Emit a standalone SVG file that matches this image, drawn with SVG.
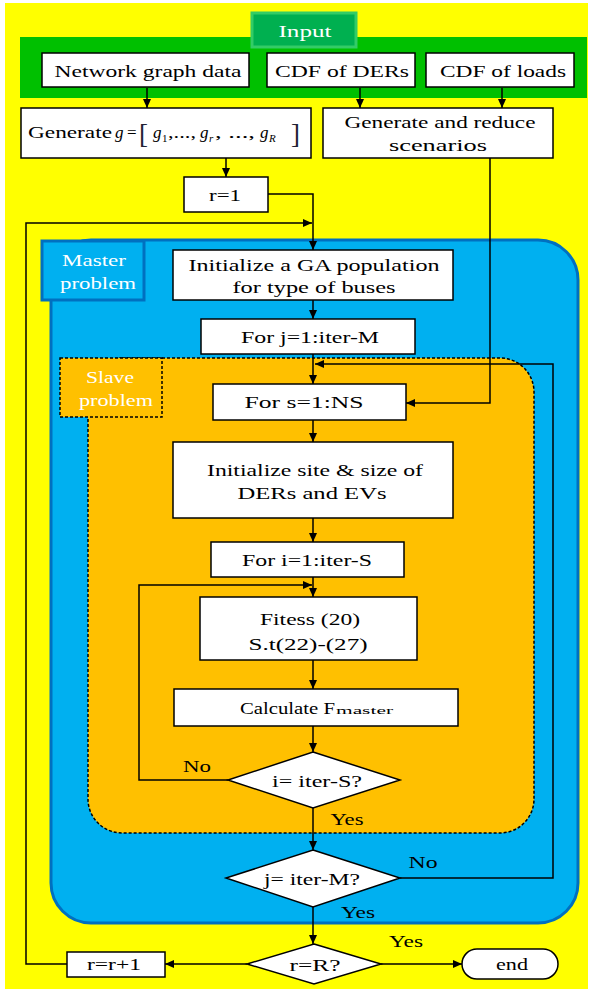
<svg xmlns="http://www.w3.org/2000/svg" width="592" height="992" viewBox="0 0 592 992">
<defs>
<marker id="ah" markerUnits="userSpaceOnUse" markerWidth="9" markerHeight="8" refX="9" refY="4" orient="auto">
<path d="M0,0 L9,4 L0,8 z" fill="#000"/>
</marker>
<style>
text{font-family:"Liberation Serif","Times New Roman",serif;font-size:17px;fill:#000;text-anchor:middle}
.box{fill:#fff;stroke:#000;stroke-width:1.5}
text.w{fill:#fff}
.c{fill:none;stroke:#000;stroke-width:1.5;marker-end:url(#ah)}
text.s{text-anchor:start}
text.i{font-style:italic;text-anchor:start}
text.sub{font-size:11px;text-anchor:start}
text.subi{font-size:11px;font-style:italic;text-anchor:start}
text.br{font-size:27px;text-anchor:start;fill:#223}
text.tiny{font-size:10px;text-anchor:start}
</style>
</defs>
<rect x="0" y="0" width="592" height="992" fill="#fff"/>
<rect x="5" y="3" width="583" height="986" fill="#FFFF00"/>
<g id="input">
<rect x="20" y="37" width="567" height="61" fill="#00C000"/>
<rect x="252" y="13" width="104" height="34" fill="#00B050" stroke="#33CC66" stroke-width="3"/>
<text x="305" y="37" class="w" textLength="53" lengthAdjust="spacingAndGlyphs">Input</text>
</g>
<g id="master">
<rect x="51" y="240" width="527" height="683" rx="40" fill="#00B0F0" stroke="#0070C0" stroke-width="3"/>
<rect x="42" y="241" width="102" height="59" fill="#00B0F0" stroke="#0070C0" stroke-width="3"/>
<text x="94" y="266" class="w" textLength="64" lengthAdjust="spacingAndGlyphs">Master</text>
<text x="98" y="289" class="w" textLength="76" lengthAdjust="spacingAndGlyphs">problem</text>
</g>
<g id="slave">
<rect x="88" y="358" width="446" height="475" rx="34" fill="#FFC000" stroke="#000" stroke-width="1.5" stroke-dasharray="3,2"/>
<rect x="60" y="358" width="102" height="59" fill="#FFC000" stroke="#000" stroke-width="1.5" stroke-dasharray="3,2"/>
<text x="110" y="383" class="w" textLength="48" lengthAdjust="spacingAndGlyphs">Slave</text>
<text x="116" y="406" class="w" textLength="74" lengthAdjust="spacingAndGlyphs">problem</text>
</g>
<g id="connectors">
<path class="c" d="M147,88 V108"/>
<path class="c" d="M360,88 V108"/>
<path class="c" d="M502,88 V108"/>
<path class="c" d="M226,158 V177"/>
<path class="c" d="M268,194 H313 V250"/>
<path class="c" d="M67,964 H26 V223 H312"/>
<path class="c" d="M313,300 V319"/>
<path class="c" d="M313,354 V384"/>
<path class="c" d="M490,158 V403 H406"/>
<path class="c" d="M313,420 V442"/>
<path class="c" d="M313,518 V542"/>
<path class="c" d="M313,577 V597"/>
<path class="c" d="M228,780 H139 V585 H312"/>
<path class="c" d="M313,660 V689"/>
<path class="c" d="M313,726 V752"/>
<path class="c" d="M313,808 V850"/>
<path class="c" d="M400,878 H553 V364 H315"/>
<path class="c" d="M313,907 V944"/>
<path class="c" d="M381,964 H462"/>
<path class="c" d="M247,964 H165"/>
</g>
<g id="n-network"><rect class="box" x="42" y="53" width="207" height="34"/><text x="148" y="77" textLength="187" lengthAdjust="spacingAndGlyphs">Network graph data</text></g>
<g id="n-cdfder"><rect class="box" x="267" y="53" width="148" height="34"/><text x="342" y="77" textLength="134" lengthAdjust="spacingAndGlyphs">CDF of DERs</text></g>
<g id="n-cdfload"><rect class="box" x="426" y="53" width="148" height="34"/><text x="503" y="77" textLength="126" lengthAdjust="spacingAndGlyphs">CDF of loads</text></g>
<g id="n-geng"><rect class="box" x="21" y="108" width="290" height="50"/>
<text x="28" y="138" class="s" textLength="84" lengthAdjust="spacingAndGlyphs">Generate</text>
<text x="115" y="138" class="i">g</text>
<text x="127" y="138" class="s">=</text>
<text x="139" y="143" class="br">[</text>
<text x="153" y="138" class="i">g</text><text x="162" y="142" class="sub">1</text>
<text x="168" y="138" class="s" textLength="28" lengthAdjust="spacingAndGlyphs">,...,</text>
<text x="200" y="138" class="i">g</text><text x="209" y="142" class="subi">r</text>
<text x="215" y="138" class="s" textLength="40" lengthAdjust="spacingAndGlyphs">, ...,</text>
<text x="260" y="138" class="i">g</text><text x="269" y="142" class="subi">R</text>
<text x="291" y="143" class="br">]</text>
</g>
<g id="n-genred"><rect class="box" x="323" y="108" width="230" height="50"/>
<text x="440" y="128" textLength="191" lengthAdjust="spacingAndGlyphs">Generate and reduce</text>
<text x="438" y="151" textLength="98" lengthAdjust="spacingAndGlyphs">scenarios</text></g>
<g id="n-r1"><rect class="box" x="184" y="177" width="84" height="35"/><text x="225" y="201" textLength="32" lengthAdjust="spacingAndGlyphs">r=1</text></g>
<g id="n-initga"><rect class="box" x="173" y="250" width="280" height="50"/>
<text x="314" y="271" textLength="251" lengthAdjust="spacingAndGlyphs">Initialize a GA population</text>
<text x="314" y="293" textLength="163" lengthAdjust="spacingAndGlyphs">for  type of buses</text></g>
<g id="n-forj"><rect class="box" x="201" y="319" width="214" height="35"/><text x="310" y="343" textLength="138" lengthAdjust="spacingAndGlyphs">For j=1:iter-M</text></g>
<g id="n-fors"><rect class="box" x="213" y="384" width="193" height="36"/><text x="304" y="408" textLength="119" lengthAdjust="spacingAndGlyphs">For s=1:NS</text></g>
<g id="n-initsite"><rect class="box" x="173" y="442" width="280" height="76"/>
<text x="315" y="476" textLength="216" lengthAdjust="spacingAndGlyphs">Initialize site &amp; size of</text>
<text x="312" y="499" textLength="149" lengthAdjust="spacingAndGlyphs">DERs and EVs</text></g>
<g id="n-fori"><rect class="box" x="211" y="542" width="193" height="35"/><text x="307" y="566" textLength="130" lengthAdjust="spacingAndGlyphs">For i=1:iter-S</text></g>
<g id="n-fitess"><rect class="box" x="200" y="597" width="217" height="63"/>
<text x="310" y="625" textLength="100" lengthAdjust="spacingAndGlyphs">Fitess (20)</text>
<text x="308" y="650" textLength="119" lengthAdjust="spacingAndGlyphs">S.t(22)-(27)</text></g>
<g id="n-calc"><rect class="box" x="174" y="689" width="284" height="37"/>
<text x="240" y="714" class="s" textLength="95" lengthAdjust="spacingAndGlyphs">Calculate F</text>
<text x="336" y="714" class="tiny" textLength="57" lengthAdjust="spacingAndGlyphs">master</text></g>
<g id="n-di"><path class="box" d="M313,752 L400,780 L313,808 L228,780 z"/><text x="317" y="787" textLength="90" lengthAdjust="spacingAndGlyphs">i= iter-S?</text></g>
<g id="n-dj"><path class="box" d="M313,850 L400,878 L313,907 L226,878 z"/><text x="312" y="885" textLength="96" lengthAdjust="spacingAndGlyphs">j= iter-M?</text></g>
<g id="n-dr"><path class="box" d="M314,944 L381,964 L314,984 L247,964 z"/><text x="315" y="971" textLength="51" lengthAdjust="spacingAndGlyphs">r=R?</text></g>
<g id="n-end"><rect class="box" x="462" y="949" width="96" height="30" rx="15"/><text x="512" y="970" textLength="32" lengthAdjust="spacingAndGlyphs">end</text></g>
<g id="n-rr1"><rect class="box" x="67" y="952" width="98" height="25"/><text x="114" y="970" textLength="54" lengthAdjust="spacingAndGlyphs">r=r+1</text></g>
<g id="labels">
<text x="197" y="772" textLength="28" lengthAdjust="spacingAndGlyphs">No</text>
<text x="347" y="825" textLength="33" lengthAdjust="spacingAndGlyphs">Yes</text>
<text x="423" y="868" textLength="29" lengthAdjust="spacingAndGlyphs">No</text>
<text x="358" y="918" textLength="34" lengthAdjust="spacingAndGlyphs">Yes</text>
<text x="406" y="947" textLength="34" lengthAdjust="spacingAndGlyphs">Yes</text>
</g>
</svg>
